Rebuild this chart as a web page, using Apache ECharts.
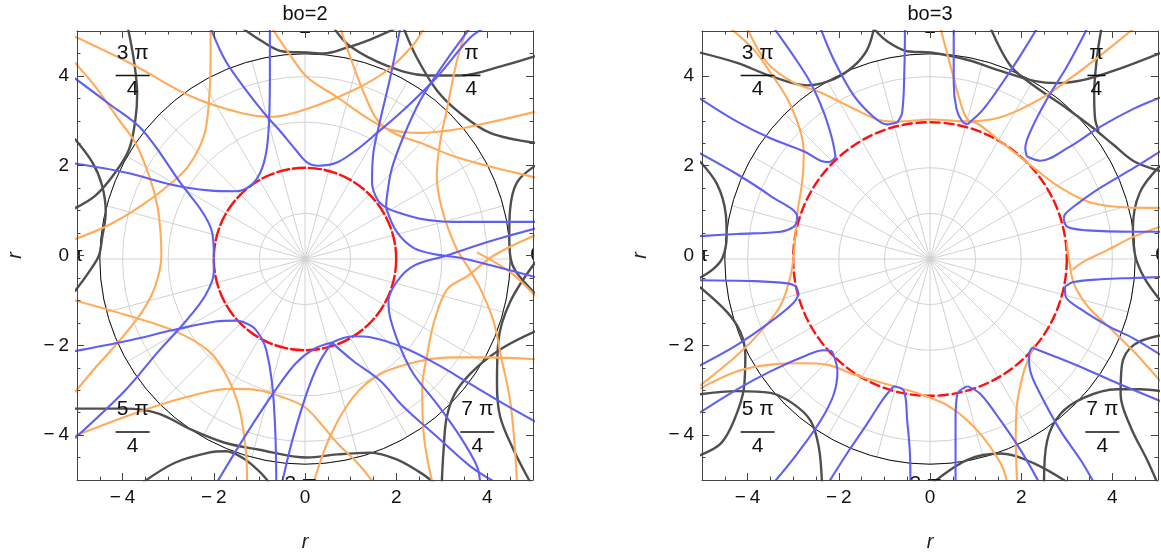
<!DOCTYPE html>
<html lang="en">
<head>
<meta charset="UTF-8">
<title>bo contours</title>
<script src="https://cdn.jsdelivr.net/npm/echarts@6/dist/echarts.min.js"></script>
<style>
  *{margin:0;padding:0;}
  body{background:#fff;}
  #main{width:1161px;height:557px;}
</style>
</head>
<body>
<div id="main"></div>
<script>
// ---- axis / panel data ----
var tickVals = [-4, -2, 0, 2, 4];
var panelTitles = ['bo=2', 'bo=3'];
var boValues = [2, 3];
var outerRadius = 4.5;
// angle labels on the polar frame: numerator, denominator, position of the bar (data units)
var angleLabels = [
  {num: '3 \u03c0', den: '4', x: -3.78, y: 4.01},
  {num: '\u03c0', den: '4', x: 3.65, y: 4.01},
  {num: '5 \u03c0', den: '4', x: -3.78, y: -3.93},
  {num: '7 \u03c0', den: '4', x: 3.78, y: -3.93},
  {num: '\u03c0', den: '2', x: 0, y: 5.4},
  {num: '3 \u03c0', den: '2', x: -0.1, y: -5.6},
  {num: '0', den: '', x: 5.07, y: 0},
  {num: '\u03c0', den: '', x: -5.02, y: 0}
];

// ---- bo=2 curves ----
var L_or1 = [[-5.05,4.88],[-3.79,4.26],[-2.47,3.53],[-1.38,3.17],[-0.72,3.09],[-0.03,3.24],[1.06,3.68],[1.8,4.12],[2.38,4.7],[2.6,5.05]];
var L_or2 = [[-0.75,5.1],[-0.35,4.5],[0.05,3.97],[0.7,3.53],[1.43,3.02],[1.87,2.8],[2.53,2.73],[3.26,2.8],[3.99,2.95],[5.05,3.2]];
var L_or3 = [[0.77,5.07],[1.0,4.4],[1.3,3.6],[1.6,3.0],[2.0,2.7],[2.53,2.51],[3.26,2.21],[3.99,2.0],[5.05,1.74]];
var L_or4 = [[-2.07,5.07],[-2.07,4.33],[-2.11,3.38],[-2.22,2.65],[-2.55,2.0],[-2.91,1.63],[-3.57,1.12],[-4.3,0.68],[-5.05,0.36]];
var L_or5 = [[-5.05,4.3],[-4.59,3.75],[-4.08,3.02],[-3.72,2.51],[-3.42,1.78],[-3.24,1.12],[-3.17,0.53],[-3.15,0.0],[-3.28,-0.67],[-3.57,-1.25],[-4.08,-1.91],[-4.59,-2.49],[-5.05,-3.05]];
var L_or6 = [[-5.05,-1.0],[-3.94,-1.32],[-2.84,-1.69],[-2.11,-2.13],[-1.74,-2.64],[-1.45,-3.37],[-1.3,-4.32],[-1.27,-5.05]];
var L_or7 = [[-5.05,-4.02],[-3.94,-3.59],[-2.84,-3.22],[-1.96,-3.0],[-1.52,-2.97],[-1.01,-3.0],[-0.5,-3.15],[0.0,-3.38],[0.35,-3.75],[0.7,-4.17],[1.14,-4.61],[1.5,-5.05]];
var L_or8 = [[0.19,-5.05],[0.55,-4.03],[1.06,-3.15],[1.65,-2.64],[2.52,-2.35],[3.26,-2.27],[3.99,-2.27],[5.05,-2.31]];
var L_or9 = [[3.55,5.07],[3.33,4.33],[3.11,3.24],[2.96,2.51],[2.89,1.78],[3.0,1.05],[3.3,0.2],[3.6,-0.3],[3.85,-0.75],[4.14,-1.48],[4.29,-2.21],[4.51,-3.31],[4.65,-5.05]];
var L_or10 = [[5.05,0.45],[4.14,0.0],[3.56,-0.46],[3.12,-0.75],[2.83,-1.48],[2.68,-2.21],[2.57,-2.95],[2.61,-4.04],[2.79,-5.05]];
var L_or11 = [[3.77,0.07],[4.5,-0.37],[5.05,-0.9]];

var L_bl1 = [[-5.05,3.95],[-4.3,3.38],[-3.57,2.8],[-2.69,1.56],[-2.25,0.97],[-2.04,0.53],[-2.0,0.0]];
var L_bl2 = [[-2.0,0.0],[-2.0,-0.37],[-2.18,-0.88],[-2.62,-1.47],[-3.21,-2.13],[-3.94,-3.0],[-5.05,-4.07]];
var L_bl3 = [[-5.05,2.05],[-3.94,1.85],[-2.84,1.56],[-2.11,1.45],[-1.52,1.43],[-1.2,1.55],[-0.98,1.85],[-0.85,2.3],[-0.79,2.95],[-0.77,3.97],[-0.77,5.07]];
var L_bl4 = [[-2.07,5.07],[-1.74,4.33],[-1.23,3.6],[-0.83,3.09],[-0.57,2.8],[-0.21,2.36],[0.05,2.07],[0.3,2.0],[0.7,2.07],[1.14,2.36],[1.58,2.73],[2.16,3.24],[2.89,3.97],[3.62,4.85],[3.99,5.1]];
var L_bl5 = [[2.09,5.07],[1.87,3.97],[1.65,3.02],[1.5,2.29],[1.47,1.63],[1.58,1.26],[1.76,1.08],[2.01,0.97],[2.52,0.82],[3.26,0.75],[4.35,0.75],[5.05,0.75]];
var L_bl6 = [[3.62,5.07],[3.04,4.26],[2.53,3.46],[2.16,2.65],[1.9,1.92],[1.79,1.26],[1.78,1.05]];
var L_bl7 = [[1.78,1.05],[2.01,0.53],[2.38,0.17],[2.89,0.02],[3.4,-0.05],[4.2,-0.25],[5.05,-0.48]];
var L_bl8 = [[5.05,0.6],[4.0,0.3],[3.11,0.0],[2.38,-0.23],[2.01,-0.59],[1.83,-1.03],[1.87,-1.4],[2.09,-2.05],[2.38,-2.64],[2.89,-3.3],[3.4,-4.03],[3.77,-4.69],[3.84,-5.05]];
var L_bl9 = [[0.59,-1.94],[1.06,-1.8],[1.43,-1.82],[2.16,-2.05],[2.89,-2.42],[3.62,-2.86],[4.35,-3.3],[5.05,-3.7]];
var L_bl10 = [[0.59,-1.94],[1.06,-2.35],[1.65,-2.79],[2.16,-3.37],[2.89,-4.03],[3.62,-4.69],[4.17,-5.05]];
var L_bl11 = [[0.59,-1.94],[0.33,-2.35],[0.11,-2.86],[-0.1,-3.5],[-0.3,-4.2],[-0.5,-5.05]];
var L_bl12 = [[-1.93,-5.05],[-1.3,-4.0],[-0.65,-3.0],[-0.2,-2.4],[0.2,-2.08],[0.59,-1.94]];
var L_bl13 = [[-5.05,-2.13],[-3.94,-1.91],[-2.84,-1.65],[-1.96,-1.47],[-1.52,-1.45],[-1.16,-1.58],[-0.98,-1.8],[-0.85,-2.1],[-0.72,-2.86],[-0.65,-3.96],[-0.63,-5.05]];

var L_bk1 = [[-3.88,5.05],[-3.75,4.33],[-3.68,3.6],[-3.72,3.02],[-3.86,2.36],[-4.16,1.85],[-4.59,1.34],[-5.05,1.05]];
var L_bk2 = [[-5.05,2.6],[-4.66,2.07],[-4.45,1.56],[-4.37,0.97],[-4.45,0.39],[-4.52,0.0],[-4.74,-0.37],[-5.05,-0.8]];
var L_bk3 = [[-1.38,5.07],[-0.94,4.77],[-0.5,4.55],[0.05,4.52],[0.41,4.5],[0.92,4.63],[1.43,4.81],[2.01,5.07]];
var L_bk4 = [[0.63,5.07],[0.99,4.66],[1.79,4.23],[2.67,4.01],[3.4,4.01],[4.35,4.23],[5.05,4.44]];
var L_bk5 = [[2.16,5.07],[2.45,4.41],[2.89,3.68],[3.4,3.17],[4.06,2.73],[5.05,2.51]];
var L_bk6 = [[5.05,2.0],[4.65,1.63],[4.5,1.05],[4.48,0.46],[4.5,0.0],[4.62,-0.35],[5.05,-0.85]];
var L_bk7 = [[5.05,-0.15],[4.5,-1.03],[4.24,-1.91],[4.21,-2.86],[4.28,-3.59],[4.57,-4.32],[4.94,-5.05]];
var L_bk8 = [[5.05,-1.69],[4.35,-2.05],[3.77,-2.49],[3.33,-3.0],[3.11,-3.59],[3.04,-4.32],[3.0,-5.05]];
var L_bk9 = [[-5.05,-3.41],[-3.94,-3.41],[-3.21,-3.52],[-2.49,-3.88],[-1.76,-4.17],[-1.03,-4.32],[0.05,-4.5],[0.7,-4.43],[1.43,-4.39],[2.01,-4.54],[2.52,-4.83],[2.82,-5.05]];
var L_bk10 = [[-3.55,-5.05],[-2.84,-4.61],[-2.11,-4.39],[-1.74,-4.36],[-1.38,-4.5],[-1.01,-4.8],[-0.79,-5.05]];

// ---- bo=3 curves ----
var R_or1 = [[-4.38,5.06],[-3.86,4.58],[-3.5,4.07],[-3.13,3.49],[-2.84,2.76],[-2.77,2.24],[-2.8,1.66],[-2.91,0.93],[-2.99,0.0],[-3.06,-0.46],[-3.28,-1.12],[-3.72,-1.7],[-4.23,-2.22],[-5.05,-2.9]];
var R_or2 = [[-4.01,5.06],[-3.57,4.29],[-2.99,3.85],[-2.4,3.63],[-1.67,3.27],[-1.09,3.01],[-0.72,2.98],[0.0,3.03],[0.82,2.99],[1.55,3.08],[2.42,3.49],[3.15,4.0],[3.89,4.58],[4.47,5.06]];
var R_or3 = [[0.23,5.06],[0.45,4.22],[0.71,3.27],[0.85,3.0],[1.04,2.94],[1.55,2.54],[2.28,1.95],[2.86,1.51],[3.52,1.18],[4.32,1.07],[5.05,1.06]];
var R_or4 = [[-5.05,-2.97],[-4.23,-2.58],[-3.5,-2.43],[-2.77,-2.4],[-2.26,-2.43],[-1.67,-2.65],[-0.94,-2.87],[-0.21,-3.09],[0.45,-3.38],[1.04,-3.9],[1.55,-4.63],[1.69,-5.05]];
var R_or5 = [[1.91,-5.05],[1.88,-4.04],[1.91,-3.31],[2.06,-2.58],[2.24,-2.11],[2.3,-1.98]];
var R_or6 = [[3.0,0.3],[3.04,-0.02],[3.15,-0.61],[3.45,-1.12],[3.89,-1.56],[4.47,-2.14],[5.05,-2.8]];
var R_or7 = [[5.05,0.64],[4.47,0.42],[3.89,0.12],[3.4,-0.12],[3.12,-0.32]];

var R_bl1 = [[-5.05,3.5],[-4.23,2.98],[-3.5,2.61],[-2.77,2.32],[-2.4,2.11],[-2.22,2.08],[-2.07,2.19]];
var R_bl1b = [[-2.07,2.19],[-2.15,2.61],[-2.33,3.19],[-2.62,3.85],[-2.99,4.44],[-3.42,5.06]];
var R_bl2 = [[-5.05,2.28],[-4.23,1.81],[-3.5,1.33],[-2.91,0.86],[-2.91,0.78]];
var R_bl2b = [[-2.91,0.78],[-2.99,0.64],[-3.28,0.53],[-4.23,0.48],[-5.05,0.43]];
var R_bl3 = [[-2.4,5.06],[-2.11,4.36],[-1.67,3.56],[-1.23,3.08],[-0.94,2.92],[-0.72,2.96]];
var R_bl3b = [[-0.72,2.96],[-0.61,3.19],[-0.56,4.22],[-0.55,5.06]];
var R_bl4 = [[0.52,5.06],[0.52,3.85],[0.58,3.27],[0.71,2.98],[0.82,2.92]];
var R_bl4b = [[0.82,2.92],[1.18,3.27],[1.69,4.0],[2.06,4.58],[2.35,5.06]];
var R_bl5 = [[3.45,5.06],[3.01,4.22],[2.57,3.49],[2.2,2.76],[2.09,2.39],[2.12,2.21]];
var R_bl5b = [[2.12,2.21],[2.42,2.11],[3.01,2.39],[3.74,2.87],[4.47,3.27],[5.05,3.52]];
var R_bl6 = [[5.05,2.32],[4.47,1.95],[3.74,1.51],[3.23,1.15],[2.97,0.93],[2.93,0.82]];
var R_bl6b = [[2.93,0.82],[3.01,0.64],[3.45,0.56],[4.47,0.53],[5.05,0.53]];
var R_bl7 = [[-5.05,-0.55],[-3.86,-0.57],[-3.13,-0.62],[-2.95,-0.69],[-2.88,-0.86]];
var R_bl7b = [[-2.88,-0.86],[-2.99,-1.05],[-3.5,-1.48],[-4.23,-1.99],[-5.05,-2.45]];
var R_bl8 = [[-5.05,-3.5],[-4.23,-2.98],[-3.5,-2.58],[-2.77,-2.25],[-2.33,-2.11],[-2.15,-2.13]];
var R_bl8b = [[-2.15,-2.13],[-2.03,-2.58],[-2.11,-3.09],[-2.4,-3.68],[-2.91,-4.41],[-3.42,-5.05]];
var R_bl9 = [[-2.22,-5.05],[-1.82,-4.41],[-1.38,-3.75],[-1.01,-3.17],[-0.79,-2.91]];
var R_bl9b = [[-0.79,-2.91],[-0.57,-3.02],[-0.5,-3.68],[-0.44,-4.41],[-0.43,-5.05]];
var R_bl10 = [[0.82,-2.91],[0.6,-3.09],[0.56,-3.68],[0.56,-5.05]];
var R_bl10b = [[0.82,-2.91],[1.11,-3.09],[1.55,-3.68],[1.99,-4.34],[2.39,-5.05]];
var R_bl11 = [[2.24,-2.05],[2.64,-2.21],[3.37,-2.51],[4.1,-2.84],[5.05,-3.24]];
var R_bl11b = [[2.24,-2.05],[2.17,-2.21],[2.2,-2.58],[2.42,-3.09],[2.86,-3.9],[3.3,-4.55],[3.59,-5.05]];
var R_bl12 = [[2.96,-0.69],[3.15,-0.59],[3.74,-0.53],[4.47,-0.5],[5.05,-0.48]];
var R_bl12b = [[2.96,-0.69],[2.97,-0.9],[3.3,-1.19],[3.89,-1.56],[4.47,-1.85],[5.05,-2.21]];

var R_bk1 = [[-5.05,4.52],[-4.23,4.29],[-3.5,4.0],[-2.69,3.79],[-2.11,3.93],[-1.67,4.22],[-1.38,4.58],[-1.23,5.05]];
var R_bk2 = [[-1.23,5.05],[-0.94,4.77],[-0.5,4.55],[0.01,4.52],[0.81,4.36],[1.55,4.11],[2.28,3.89],[2.79,3.84],[3.37,3.91],[4.1,4.14],[5.05,4.51]];
var R_bk3 = [[1.33,5.06],[1.77,4.22],[2.28,3.78],[3.01,3.27],[3.59,2.83],[4.03,2.46],[4.47,2.1],[5.05,1.88]];
var R_bk4 = [[5.05,2.0],[4.6,1.4],[4.45,0.6],[4.5,0.0],[4.7,-0.5],[5.05,-1.0]];
var R_bk5 = [[-5.05,2.1],[-4.67,1.59],[-4.48,0.93],[-4.46,0.42],[-4.55,-0.05],[-4.75,-0.3],[-5.05,-0.5]];
var R_bk6 = [[-5.05,-0.7],[-4.45,-1.26],[-4.16,-1.7],[-4.05,-2.21],[-4.08,-2.95],[-4.3,-3.68],[-4.59,-4.19],[-5.05,-4.45]];
var R_bk7 = [[-5.05,-3.09],[-4.23,-3.02],[-3.5,-3.06],[-2.99,-3.31],[-2.62,-3.68],[-2.44,-4.26],[-2.37,-5.05]];
var R_bk8 = [[0.08,-5.05],[0.82,-4.55],[1.55,-4.41],[2.28,-4.63],[3.01,-5.05]];
var R_bk9 = [[2.5,-5.05],[2.57,-4.12],[2.86,-3.53],[3.37,-3.17],[4.1,-2.98],[4.62,-2.98],[5.05,-3.02]];
var R_bk10 = [[5.05,-1.78],[4.47,-1.99],[4.21,-2.43],[4.18,-3.09],[4.4,-3.82],[4.76,-4.55],[4.98,-5.05]];
var R_bk11 = [[3.76,5.06],[3.66,4.4],[3.6,3.6],[3.62,3.05],[3.7,2.78]];

var panelCurves = [
  {orange: [L_or1,L_or2,L_or3,L_or4,L_or5,L_or6,L_or7,L_or8,L_or9,L_or10,L_or11],
   blue: [L_bl1,L_bl2,L_bl3,L_bl4,L_bl5,L_bl6,L_bl7,L_bl8,L_bl9,L_bl10,L_bl11,L_bl12,L_bl13],
   black: [L_bk1,L_bk2,L_bk3,L_bk4,L_bk5,L_bk6,L_bk7,L_bk8,L_bk9,L_bk10]},
  {orange: [R_or1,R_or2,R_or3,R_or4,R_or5,R_or6,R_or7],
   blue: [R_bl1,R_bl1b,R_bl2,R_bl2b,R_bl3,R_bl3b,R_bl4,R_bl4b,R_bl5,R_bl5b,R_bl6,R_bl6b,
          R_bl7,R_bl7b,R_bl8,R_bl8b,R_bl9,R_bl9b,R_bl10,R_bl10b,R_bl11,R_bl11b,R_bl12,R_bl12b],
   black: [R_bk1,R_bk2,R_bk3,R_bk4,R_bk5,R_bk6,R_bk7,R_bk8,R_bk9,R_bk10,R_bk11]}
];

// ---- layout / style ----
var FONT = 'Liberation Sans, Arial, sans-serif';
var frameColor = '#444';
var gridColor = '#d2d2d2';
var colBlue = '#5f5ff2', colOrange = '#ffab5a', colBlack = '#4f4f4f';
var plotSize = 456;
var gridLefts = [77, 702];
var gridTop = 31;
var unitPx = plotSize / 10;

function fmt(v) { return v < 0 ? '\u2212\u2009' + (-v) : String(v); }

var grids = [], xAxes = [], yAxes = [], polars = [], angleAxes = [], radiusAxes = [], series = [];

function frameAxis(gi, pos, withLabels) {
  var a = {type: 'value', gridIndex: gi, position: pos, min: -5, max: 5, interval: 0.5, z: 20,
    axisLine: {show: true, onZero: false, lineStyle: {color: frameColor, width: 1}},
    axisTick: {inside: true, length: 3.5, lineStyle: {color: frameColor}},
    splitLine: {show: false},
    axisLabel: {show: false}};
  if (withLabels) {
    a.axisLabel = {show: true, customValues: tickVals, formatter: fmt, color: '#111',
      fontSize: 19, fontFamily: FONT, margin: 8};
    a.name = 'r';
    a.nameLocation = 'middle';
    a.nameGap = (pos === 'bottom') ? 52 : 52;
    a.nameTextStyle = {fontSize: 20, fontStyle: 'italic', fontFamily: FONT, color: '#222'};
  }
  return a;
}
function majorTickAxis(gi, pos) {
  return {type: 'value', gridIndex: gi, position: pos, min: -5, max: 5, z: 20,
    axisLine: {show: false, onZero: false}, splitLine: {show: false}, axisLabel: {show: false},
    axisTick: {show: true, inside: true, length: 7, customValues: tickVals, lineStyle: {color: frameColor}}};
}

function renderAngleLabel(params, api) {
  var lab = angleLabels[params.dataIndex];
  var p = api.coord([api.value(0), api.value(1)]);
  var txt = {fontSize: 21, fontFamily: FONT, fill: '#111', textAlign: 'center'};
  if (!lab.den) {
    return {type: 'text', x: p[0], y: p[1],
      style: Object.assign({}, txt, {text: lab.num, textVerticalAlign: 'middle'})};
  }
  var w = lab.num.length > 1 ? 34 : 18;
  return {type: 'group', x: p[0], y: p[1], children: [
    {type: 'text', x: 0, y: -12, style: Object.assign({}, txt, {text: lab.num, textVerticalAlign: 'bottom'})},
    {type: 'line', shape: {x1: -w / 2, y1: 0, x2: w / 2, y2: 0}, style: {stroke: '#111', lineWidth: 1.6}},
    {type: 'text', x: 0, y: 14, style: Object.assign({}, txt, {text: lab.den, textVerticalAlign: 'middle'})}
  ]};
}

gridLefts.forEach(function (gl, gi) {
  grids.push({left: gl, top: gridTop, width: plotSize, height: plotSize});
  var cx = gl + plotSize / 2, cy = gridTop + plotSize / 2;

  xAxes.push(frameAxis(gi, 'bottom', true), majorTickAxis(gi, 'bottom'),
             frameAxis(gi, 'top', false), majorTickAxis(gi, 'top'));
  yAxes.push(frameAxis(gi, 'left', true), majorTickAxis(gi, 'left'),
             frameAxis(gi, 'right', false), majorTickAxis(gi, 'right'));

  // polar grid out to r = 4.5
  var pMain = polars.length;
  polars.push({center: [cx, cy], radius: outerRadius * unitPx});
  angleAxes.push({polarIndex: pMain, type: 'value', min: 0, max: 360, interval: 15, startAngle: 0, z: 1,
    axisLine: {show: true, lineStyle: {color: '#111', width: 1}},
    axisTick: {show: false}, axisLabel: {show: false},
    splitLine: {show: true, lineStyle: {color: gridColor, width: 1}}});
  radiusAxes.push({polarIndex: pMain, type: 'value', min: 0, max: outerRadius, interval: 1,
    axisLine: {show: false}, axisTick: {show: false}, axisLabel: {show: false},
    splitLine: {show: true, lineStyle: {color: gridColor, width: 1}}});

  // red dashed circle r = bo
  var pRed = polars.length;
  polars.push({center: [cx, cy], radius: boValues[gi] * unitPx});
  angleAxes.push({polarIndex: pRed, type: 'value', min: 0, max: 360, startAngle: 0, z: 3,
    axisLine: {show: true, lineStyle: {color: '#ff1010', width: 2.4, type: gi === 0 ? [14, 2] : [11, 3]}},
    axisTick: {show: false}, axisLabel: {show: false}, splitLine: {show: false}});
  radiusAxes.push({polarIndex: pRed, type: 'value', min: 0, max: boValues[gi],
    axisLine: {show: false}, axisTick: {show: false}, axisLabel: {show: false}, splitLine: {show: false}});

  var c = panelCurves[gi];
  function addCurves(list, color, width, z) {
    list.forEach(function (pts) {
      series.push({type: 'line', xAxisIndex: gi * 4, yAxisIndex: gi * 4, data: pts,
        showSymbol: false, smooth: 0.35, clip: true, silent: true, z: z,
        lineStyle: {color: color, width: width}});
    });
  }
  addCurves(c.black, colBlack, 2.4, 2);
  addCurves(c.orange, colOrange, 2.1, 3);
  addCurves(c.blue, colBlue, 2.1, 4);

  series.push({type: 'custom', xAxisIndex: gi * 4, yAxisIndex: gi * 4, clip: true, silent: true, z: 6,
    data: angleLabels.map(function (l) { return [l.x, l.y]; }),
    renderItem: renderAngleLabel});
});

var chart = echarts.init(document.getElementById('main'), null, {renderer: 'canvas'});
chart.setOption({
  animation: false,
  backgroundColor: '#fff',
  grid: grids,
  xAxis: xAxes,
  yAxis: yAxes,
  polar: polars,
  angleAxis: angleAxes,
  radiusAxis: radiusAxes,
  series: series
});

// panel titles centred over each frame
var titles = [0, 1].map(function (gi) {
  var top = chart.convertToPixel({xAxisIndex: gi * 4, yAxisIndex: gi * 4}, [0, 5]);
  return {type: 'text', x: top[0], y: 14, z: 10,
    style: {text: panelTitles[gi], fontSize: 20, fontFamily: FONT, fill: '#111',
      textAlign: 'center', textVerticalAlign: 'middle'}};
});
chart.setOption({graphic: titles});
</script>
</body>
</html>
